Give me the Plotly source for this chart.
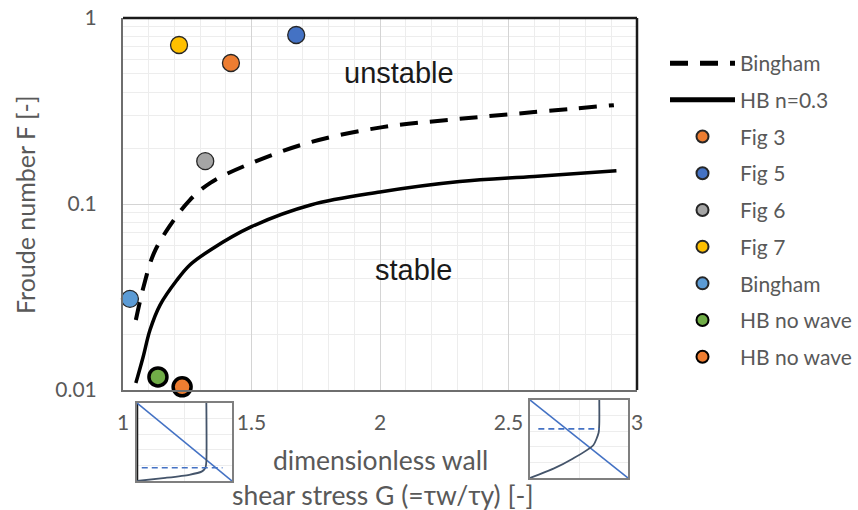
import plotly.graph_objects as go

# ---------------- data ----------------
bingham_G = [1.05, 1.08, 1.12, 1.18, 1.26, 1.34, 1.50, 1.73, 2.01, 2.30, 2.60, 2.91]
bingham_F = [0.0238, 0.0359, 0.0543, 0.0755, 0.105, 0.130, 0.166, 0.215, 0.259, 0.286, 0.312, 0.340]

hb_G = [1.05, 1.078, 1.105, 1.144, 1.21, 1.26, 1.34, 1.50, 1.73, 2.00, 2.31, 2.60, 2.92]
hb_F = [0.0109, 0.0150, 0.0210, 0.0286, 0.039, 0.047, 0.0566, 0.0755, 0.0988, 0.116, 0.132, 0.1406, 0.151]

point_names = ["Fig 3", "Fig 5", "Fig 6", "Fig 7", "Bingham", "HB no wave", "HB no wave"]
point_G = [1.42, 1.674, 1.32, 1.218, 1.027, 1.136, 1.23]
point_F = [0.573, 0.81, 0.17, 0.716, 0.0309, 0.01175, 0.0104]
point_colors = ["#ED7D31", "#4472C4", "#A5A5A5", "#FFC000", "#5B9BD5", "#70AD47", "#ED7D31"]
point_thick = [False, False, False, False, False, True, True]

x_ticks = [1, 1.5, 2, 2.5, 3]
x_tick_labels = ["1", "1.5", "2", "2.5", "3"]
y_ticks = [0.01, 0.1, 1]
y_tick_labels = ["0.01", "0.1", "1"]

# inset velocity-profile sketches (normalised 0..1)
diag_u = [0, 1]
diag_h = [1, 0]
left_prof_u = [0, 0.30, 0.55, 0.68, 0.72, 0.73, 0.73]
left_prof_h = [0, 0.04, 0.08, 0.12, 0.17, 0.25, 1]
left_plug_u = [0.05, 0.90]
left_plug_h = [0.17, 0.17]
left_wall_u = [0, 0]
left_wall_h = [0, 1]
right_prof_u = [0, 0.24, 0.44, 0.646, 0.70, 0.707, 0.707]
right_prof_h = [0, 0.12, 0.25, 0.42, 0.58, 0.70, 1]
right_plug_u = [0.085, 0.707]
right_plug_h = [0.63, 0.63]

W, H = 858, 510
def px(xp):
    return xp / W
def py(yp):
    return 1 - yp / H

FONT = "Lato, Open Sans, sans-serif"
GRAY = "#595959"

fig = go.Figure()

fig.add_trace(go.Scatter(
    x=bingham_G, y=bingham_F, mode="lines", name="Bingham",
    line=dict(color="black", width=4, dash="18px,12px", shape="spline"),
    legendgroup="g1"))
fig.add_trace(go.Scatter(
    x=hb_G, y=hb_F, mode="lines", name="HB n=0.3",
    line=dict(color="black", width=3.5, shape="spline"),
    legendgroup="g2"))

for i, (n, g, f, c, t) in enumerate(zip(point_names, point_G, point_F, point_colors, point_thick)):
    fig.add_trace(go.Scatter(
        x=[g], y=[f], mode="markers", name=n, cliponaxis=False,
        marker=dict(color=c, size=18 if t else 17,
                    line=dict(color="black" if t else "#262626", width=3.5 if t else 1.3)),
        legendgroup="p%d" % i))

# insets
for ax, traces in (
    ("2", [(left_wall_u, left_wall_h, "#1a1a1a", 2.5, None),
           (diag_u, diag_h, "#4472C4", 1.6, None),
           (left_prof_u, left_prof_h, "#44546A", 1.8, None),
           (left_plug_u, left_plug_h, "#4472C4", 1.6, "6px,4px")]),
    ("3", [(diag_u, diag_h, "#4472C4", 1.6, None),
           (right_prof_u, right_prof_h, "#44546A", 1.8, None),
           (right_plug_u, right_plug_h, "#4472C4", 1.6, "6px,4px")]),
):
    for u, h, c, w, d in traces:
        fig.add_trace(go.Scatter(
            x=u, y=h, mode="lines", showlegend=False, hoverinfo="skip",
            line=dict(color=c, width=w, dash=d, shape="spline", smoothing=0.6),
            xaxis="x" + ax, yaxis="y" + ax, cliponaxis=False))

main_x_dom = [px(123), px(637)]
main_y_dom = [py(390), py(18)]

inset_axis = dict(range=[0, 1], showline=True, mirror=True, linecolor="#7F7F7F", linewidth=1.5,
                  showticklabels=False, ticks="", showgrid=True, gridcolor="#EDEDED", zeroline=False)

fig.update_layout(
    width=W, height=H,
    margin=dict(l=0, r=0, t=0, b=0, pad=0, autoexpand=False),
    paper_bgcolor="white", plot_bgcolor="white",
    font=dict(family=FONT, color=GRAY),
    xaxis=dict(domain=main_x_dom, range=[1, 3], tickvals=x_ticks, ticktext=x_tick_labels,
               showgrid=True, gridcolor="#D4D4D4", gridwidth=1,
               minor=dict(dtick=0.1, showgrid=True, gridcolor="#EDEDED", gridwidth=1.2),
               showline=True, linecolor="#6E6E6E", linewidth=2, zeroline=False, automargin=False,
               ticks="", ticklabelstandoff=13, tickfont=dict(size=21, color=GRAY, family=FONT)),
    yaxis=dict(domain=main_y_dom, type="log", range=[-2, 0], tickvals=y_ticks, ticktext=y_tick_labels,
               showgrid=True, gridcolor="#D4D4D4", gridwidth=1,
               minor=dict(dtick="D1", showgrid=True, gridcolor="#EDEDED", gridwidth=1.2),
               showline=True, linecolor="#6E6E6E", linewidth=2, zeroline=False, automargin=False,
               ticks="", ticklabelstandoff=20, tickfont=dict(size=21, color=GRAY, family=FONT)),
    xaxis2=dict(inset_axis, domain=[px(137), px(232)], anchor="y2", dtick=0.5),
    yaxis2=dict(inset_axis, domain=[py(481), py(403)], anchor="x2", dtick=0.2),
    xaxis3=dict(inset_axis, domain=[px(530), px(628)], anchor="y3", dtick=0.5),
    yaxis3=dict(inset_axis, domain=[py(478), py(400)], anchor="x3", dtick=0.2),
    legend=dict(x=px(665), y=py(43), xanchor="left", yanchor="top",
                font=dict(size=21, color=GRAY, family=FONT),
                itemwidth=65, tracegroupgap=6.4, itemsizing="constant",
                bgcolor="rgba(0,0,0,0)"),
    shapes=[
        dict(type="line", xref="x domain", yref="y domain", x0=0, x1=1, y0=1, y1=1,
             line=dict(color="#1A1A1A", width=2.5)),
        dict(type="line", xref="x domain", yref="y domain", x0=1, x1=1, y0=0, y1=1,
             line=dict(color="#1A1A1A", width=2.5)),
    ],
    annotations=[
        dict(text="unstable", x=2.072, y=-0.296, xref="x", yref="y", showarrow=False,
             font=dict(family="Liberation Sans, Arial", size=29, color="#1A1A1A")),
        dict(text="stable", x=2.131, y=-1.355, xref="x", yref="y", showarrow=False,
             font=dict(family="Liberation Sans, Arial", size=29, color="#1A1A1A")),
        dict(text="dimensionless wall", x=px(380), y=py(460), xref="paper", yref="paper",
             xanchor="center", yanchor="middle",
             showarrow=False, font=dict(size=26.5, color=GRAY, family=FONT)),
        dict(text="shear stress G (=τw/τy) [-]", x=px(383), y=py(495), xref="paper", yref="paper",
             xanchor="center", yanchor="middle",
             showarrow=False, font=dict(size=26.5, color=GRAY, family=FONT)),
        dict(text="Froude number F [-]", x=px(25), y=py(205), xref="paper", yref="paper",
             xanchor="center", yanchor="middle",
             textangle=-90, showarrow=False, font=dict(size=25, color=GRAY, family=FONT)),
    ],
)

fig.write_html("out.html")
